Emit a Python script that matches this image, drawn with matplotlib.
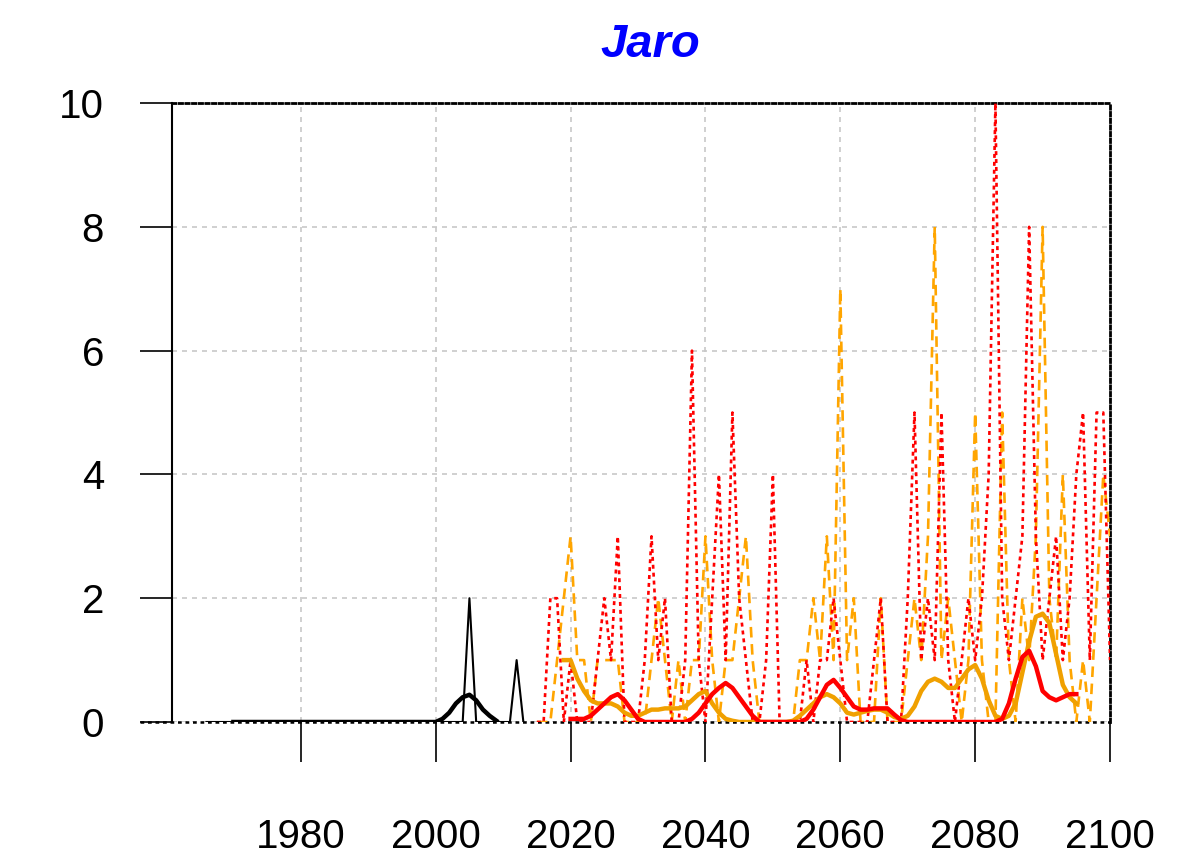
import matplotlib
matplotlib.use("Agg")
import matplotlib.pyplot as plt
import numpy as np

plt.rcParams['font.family'] = ['Liberation Sans', 'DejaVu Sans']

# observed (black), annual values
obs_years = list(range(1966, 2014))
obs_vals = [0] * len(obs_years)
obs_vals[obs_years.index(2005)] = 2
obs_vals[obs_years.index(2012)] = 1

obs_smooth_years = list(range(1970, 2010))
obs_smooth = [0.0] * 31 + [0.05, 0.15, 0.3, 0.4, 0.44, 0.35, 0.2, 0.1, 0.02]

# scenario runs, annual values 2015-2100
scen_years = list(range(2015, 2101))
red_vals = [0, 0, 2, 2, 0, 1, 0, 0, 0, 1,      # 2015-2024
            2, 1, 3, 0, 0, 0, 1, 3, 1, 2,      # 2025-2034
            0, 0, 1, 6, 1, 0, 2, 4, 1, 5,      # 2035-2044
            2, 1, 0, 0, 1, 4, 0, 0, 0, 0,      # 2045-2054
            1, 0, 1, 1, 2, 1, 0, 0, 0, 0,      # 2055-2064
            1, 2, 0, 0, 0, 2, 5, 1, 2, 1,      # 2065-2074
            5, 1, 0, 1, 2, 1, 2, 4, 10, 2,     # 2075-2084
            1, 2, 3, 8, 3, 1, 2, 3, 1, 2,      # 2085-2094
            4, 5, 1, 5, 5, 1]                  # 2095-2100
orange_vals = [0, 0, 0, 1, 2, 3, 1, 1, 0, 1,   # 2015-2024
               1, 1, 1, 0, 0, 0, 0, 1, 2, 1,   # 2025-2034
               0, 1, 0, 1, 1, 3, 1, 0, 1, 1,   # 2035-2044
               2, 3, 1, 0, 0, 0, 0, 0, 0, 1,   # 2045-2054
               1, 2, 1, 3, 1, 7, 1, 2, 0, 0,   # 2055-2064
               0, 2, 0, 0, 0, 1, 2, 1, 3, 8,   # 2065-2074
               1, 2, 1, 0, 1, 5, 1, 0, 0, 5,   # 2075-2084
               1, 0, 2, 1, 3, 8, 2, 1, 4, 1,   # 2085-2094
               0, 1, 0, 2, 4, 3]               # 2095-2100

# smoothed curves
orange_smooth_years = list(range(2019, 2096))
orange_smooth = [1.0, 1.0, 0.7, 0.5, 0.35, 0.3, 0.3, 0.3, 0.25, 0.15,   # 2019-2028
                 0.1, 0.1, 0.15, 0.2, 0.2, 0.22, 0.22, 0.22, 0.25, 0.35,  # 2029-2038
                 0.45, 0.5, 0.3, 0.15, 0.05, 0.02, 0.0, 0.0, 0.0, 0.0,    # 2039-2048
                 0.0, 0.0, 0.0, 0.0, 0.02, 0.1, 0.2, 0.3, 0.4, 0.45,      # 2049-2058
                 0.4, 0.3, 0.15, 0.12, 0.15, 0.18, 0.2, 0.2, 0.15, 0.08,  # 2059-2068
                 0.05, 0.1, 0.25, 0.5, 0.65, 0.7, 0.65, 0.55, 0.55, 0.7,  # 2069-2078
                 0.85, 0.92, 0.7, 0.35, 0.1, 0.05, 0.1, 0.3, 0.8, 1.3,    # 2079-2088
                 1.7, 1.75, 1.6, 1.1, 0.6, 0.4, 0.3]                      # 2089-2095
red_smooth_years = list(range(2020, 2096))
red_smooth = [0.05, 0.05, 0.05, 0.1, 0.2, 0.3, 0.4, 0.45, 0.35, 0.2,     # 2020-2029
              0.05, 0.0, 0.0, 0.0, 0.0, 0.0, 0.0, 0.0, 0.05, 0.15,       # 2030-2039
              0.3, 0.45, 0.55, 0.63, 0.55, 0.4, 0.25, 0.1, 0.0, 0.0,     # 2040-2049
              0.0, 0.0, 0.0, 0.0, 0.0, 0.05, 0.2, 0.4, 0.6, 0.68,        # 2050-2059
              0.55, 0.4, 0.25, 0.2, 0.2, 0.22, 0.22, 0.22, 0.12, 0.03,   # 2060-2069
              0.0, 0.0, 0.0, 0.0, 0.0, 0.0, 0.0, 0.0, 0.0, 0.0,          # 2070-2079
              0.0, 0.0, 0.0, 0.0, 0.05, 0.3, 0.7, 1.05, 1.15, 0.9,       # 2080-2089
              0.5, 0.4, 0.35, 0.4, 0.45, 0.45]                           # 2090-2095

xticks = [1980, 2000, 2020, 2040, 2060, 2080, 2100]
yticks = [0, 2, 4, 6, 8, 10]

fig = plt.figure(figsize=(11.89, 8.59), dpi=100)
ax = fig.add_axes([0.1447, 0.1595, 0.7889, 0.7205])

ax.plot(scen_years, orange_vals, color='#FFA500', lw=1.9, ls=(0, (4, 2.5)), zorder=3)
ax.plot(scen_years, red_vals, color='#FF0000', lw=1.9, ls=(0, (1.5, 1.5)), zorder=4)
ax.plot(obs_years, obs_vals, color='black', lw=1.5, zorder=4)
ax.plot(orange_smooth_years, orange_smooth, color='#F0A000', lw=3.2, zorder=5)
ax.plot(red_smooth_years, red_smooth, color='#FF0000', lw=3.2, zorder=6)
ax.plot(obs_smooth_years, obs_smooth, color='black', lw=3.2, zorder=6)

ax.set_xlim(1960.9, 2100)
ax.set_ylim(0, 10)
ax.set_xticks(xticks)
ax.set_yticks(yticks)
ax.tick_params(axis='x', length=29, width=1.2, pad=40, labelsize=29)
ax.tick_params(axis='y', length=23, width=1.2, pad=26, labelsize=29)

ax.grid(True, color='#c8c8c8', ls=(0, (3, 3)), lw=1.2, zorder=0)
ax.set_axisbelow(True)

ax.spines['left'].set_linewidth(1.5)
ax.spines['bottom'].set_visible(False)
for side in ['top', 'right']:
    ax.spines[side].set_linestyle((0, (1.2, 1.2)))
    ax.spines[side].set_linewidth(2)
ax.plot([-0.034, 1], [0, 0], transform=ax.transAxes, color='black',
        ls=(0, (1.5, 1.5)), lw=1.8, clip_on=False, zorder=2)

ax.set_title('Jaro', color='blue', fontsize=34, fontweight='bold',
             fontstyle='italic', pad=33, x=0.51)

fig.savefig('out.png', dpi=100)
